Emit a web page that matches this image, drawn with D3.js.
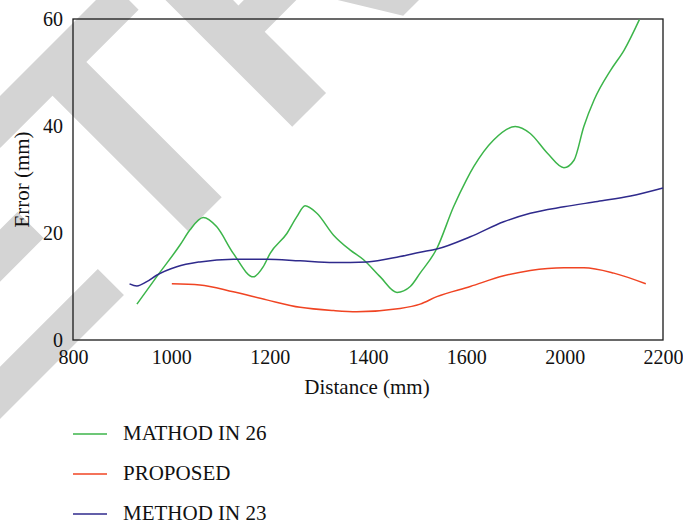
<!DOCTYPE html>
<html>
<head>
<meta charset="utf-8">
<script src="https://cdn.jsdelivr.net/npm/d3@7"></script>
<style>
  html, body { margin: 0; padding: 0; background: #fff; }
  svg { display: block; }
  .serif { font-family: "Liberation Serif", "DejaVu Serif", "Times New Roman", serif; }
</style>
</head>
<body>
<div id="chart"></div>
<script>
// ---- data ----
const xTickValues = [800, 1000, 1200, 1400, 1600, 2000, 2200];
const xTickLabels = ["800", "1000", "1200", "1400", "1600", "2000", "2200"];
const yTickValues = [0, 20, 40, 60];

const method26X = [930, 970, 1018, 1038, 1065, 1092, 1126, 1167, 1187, 1201, 1235, 1255, 1272, 1296, 1330, 1364, 1391, 1425, 1459, 1486, 1506, 1540, 1574, 1600, 1630, 1711, 1799, 1860, 1930, 1997, 2019, 2039, 2060, 2094, 2121, 2152];
const method26Y = [6.7, 11.8, 17.8, 20.6, 22.9, 21.2, 16.2, 11.8, 13.7, 16.2, 19.9, 23.0, 25.1, 23.7, 19.6, 16.8, 15.0, 11.8, 8.9, 10.0, 12.5, 17.1, 24.9, 29.9, 32.4, 37.4, 39.9, 38.6, 34.9, 32.2, 33.6, 39.9, 44.9, 50.5, 54.2, 59.9];

const proposedX = [1001, 1058, 1126, 1194, 1262, 1330, 1377, 1465, 1506, 1540, 1616, 1752, 1860, 1997, 2039, 2100, 2165];
const proposedY = [10.5, 10.3, 9.0, 7.5, 6.1, 5.5, 5.3, 5.9, 6.7, 8.1, 10.0, 12.0, 13.0, 13.5, 13.5, 12.5, 10.5];

const method23X = [915, 930, 950, 970, 1011, 1058, 1126, 1194, 1262, 1330, 1398, 1465, 1506, 1540, 1616, 1752, 1860, 1997, 2067, 2134, 2200];
const method23Y = [10.5, 10.1, 10.9, 12.1, 13.7, 14.6, 15.1, 15.1, 14.8, 14.5, 14.6, 15.6, 16.4, 17.0, 19.3, 22.1, 23.7, 24.9, 25.9, 26.9, 28.4];

const seriesNames = ["MATHOD IN 26", "PROPOSED", "METHOD IN 23"];
const seriesColors = ["#3cb54a", "#f04423", "#2f2a8c"];

// ---- layout ----
const W = 683, H = 524;
const pLeft = 73, pRight = 663, pTop = 19, pBottom = 340;

const svg = d3.select("#chart").append("svg")
  .attr("width", W).attr("height", H);

// watermark
svg.append("text")
  .attr("transform", "translate(-193,612) rotate(-45)")
  .style("font-family", "'Liberation Sans', Arial, sans-serif")
  .attr("font-weight", "bold")
  .attr("font-size", 332)
  .attr("fill", "#d4d4d4")
  .text("RETRACTED");

// scales (the original axis jumps from 1600 straight to 2000)
const x = d3.scaleLinear()
  .domain([800, 1600, 2000, 2200])
  .range([pLeft, pLeft + (pRight - pLeft) * 4 / 6, pLeft + (pRight - pLeft) * 5 / 6, pRight]);
const y = d3.scaleLinear().domain([0, 60]).range([pBottom, pTop]);

// frame
svg.append("rect")
  .attr("x", pLeft).attr("y", pTop)
  .attr("width", pRight - pLeft).attr("height", pBottom - pTop)
  .attr("fill", "none").attr("stroke", "#1a1a1a").attr("stroke-width", 1.3);

// axes (labels only, no tick marks)
const xAxis = d3.axisBottom(x)
  .tickValues(xTickValues)
  .tickFormat((d, i) => xTickLabels[i])
  .tickSize(0).tickPadding(10);
const gx = svg.append("g").attr("transform", `translate(0,${pBottom})`).call(xAxis);
gx.attr("font-family", null).attr("font-size", null).attr("class", "serif");
gx.select(".domain").remove();
gx.selectAll("text").attr("font-size", 20).attr("fill", "#111");

const yAxis = d3.axisLeft(y)
  .tickValues(yTickValues)
  .tickFormat(d3.format("d"))
  .tickSize(0).tickPadding(10);
const gy = svg.append("g").attr("transform", `translate(${pLeft},0)`).call(yAxis);
gy.attr("font-family", null).attr("font-size", null).attr("class", "serif");
gy.select(".domain").remove();
gy.selectAll("text").attr("font-size", 20).attr("fill", "#111");

// axis titles
svg.append("text")
  .attr("class", "serif")
  .attr("x", (pLeft + pRight) / 2 - 1).attr("y", 394)
  .attr("text-anchor", "middle")
  .attr("font-size", 21).attr("fill", "#111")
  .text("Distance (mm)");
svg.append("text")
  .attr("class", "serif")
  .attr("transform", `translate(29,${(pTop + pBottom) / 2}) rotate(-90)`)
  .attr("text-anchor", "middle")
  .attr("font-size", 21).attr("fill", "#111")
  .text("Error (mm)");

// lines
const line = d3.line()
  .x(d => x(d[0])).y(d => y(d[1]))
  .curve(d3.curveMonotoneX);

const series = [
  d3.zip(method26X, method26Y),
  d3.zip(proposedX, proposedY),
  d3.zip(method23X, method23Y)
];

svg.append("g").selectAll("path")
  .data(series)
  .join("path")
  .attr("d", line)
  .attr("fill", "none")
  .attr("stroke", (d, i) => seriesColors[i])
  .attr("stroke-width", 1.5);

// legend
const legend = svg.append("g");
seriesNames.forEach((name, i) => {
  const ly = 434 + i * 40;
  legend.append("line")
    .attr("x1", 73).attr("x2", 107).attr("y1", ly).attr("y2", ly)
    .attr("stroke", seriesColors[i]).attr("stroke-width", 1.5);
  legend.append("text")
    .attr("class", "serif")
    .attr("x", 123).attr("y", ly + 6)
    .attr("font-size", 21).attr("fill", "#111")
    .text(name);
});
</script>
</body>
</html>
